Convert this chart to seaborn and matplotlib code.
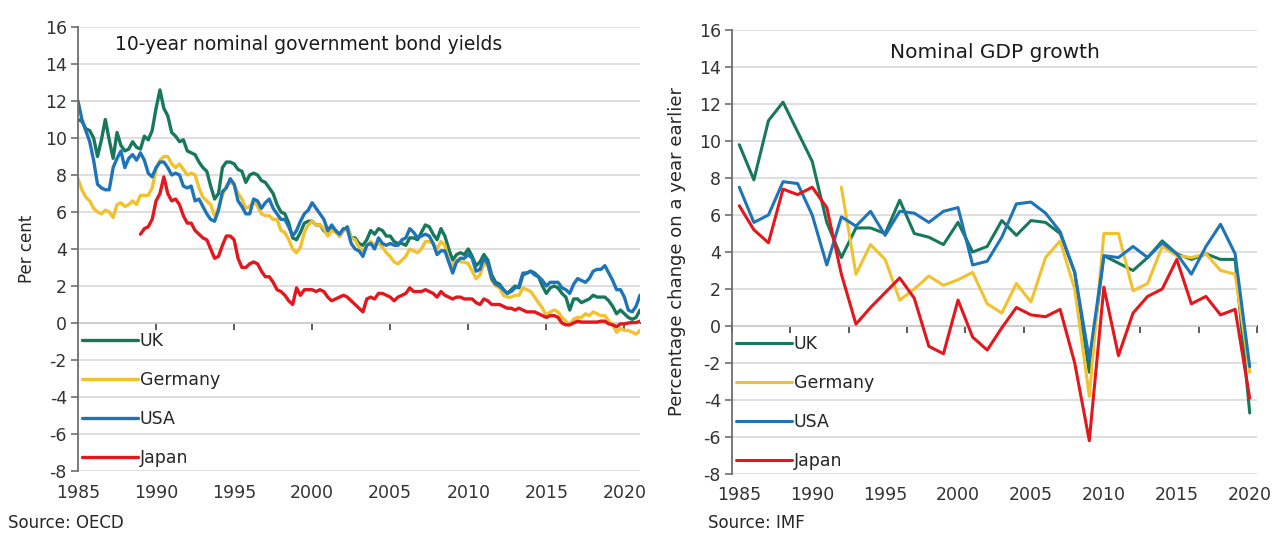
import numpy as np
import pandas as pd
import matplotlib
matplotlib.use("Agg")
import matplotlib.pyplot as plt
import seaborn as sns

countries = ["UK", "Germany", "USA", "Japan"]
colours = {"UK": "#17785b", "Germany": "#f2c12e", "USA": "#1d74b8", "Japan": "#e3171c"}

# 10-year nominal government bond yields, per cent, quarterly (OECD)
uk_yield = [11.0, 10.9, 10.5, 10.4,  10.0, 9.0, 9.9, 11.0,  9.9, 8.9, 10.3, 9.6,
            9.3, 9.4, 9.8, 9.5,  9.4, 10.1, 9.9, 10.4,  11.6, 12.6, 11.6, 11.2,
            10.3, 10.1, 9.8, 9.9,  9.3, 9.2, 9.1, 8.7,  8.4, 8.2, 7.4, 6.7,
            7.0, 8.4, 8.7, 8.7,  8.6, 8.3, 8.2, 7.6,  8.0, 8.1, 8.0, 7.7,
            7.6, 7.3, 7.0, 6.4,  6.0, 5.9, 5.4, 4.6,  4.5, 4.9, 5.4, 5.5,
            5.5, 5.3, 5.3, 5.0,  4.8, 5.1, 5.0, 4.7,  5.0, 5.2, 4.6, 4.6,
            4.3, 4.2, 4.5, 5.0,  4.8, 5.1, 5.0, 4.7,  4.7, 4.4, 4.3, 4.3,
            4.2, 4.6, 4.6, 4.5,  4.9, 5.3, 5.2, 4.8,  4.5, 5.1, 4.7, 4.0,
            3.4, 3.7, 3.8, 3.7,  4.0, 3.6, 3.1, 3.3,  3.7, 3.4, 2.6, 2.2,
            2.1, 1.8, 1.6, 1.8,  2.0, 1.9, 2.6, 2.7,  2.8, 2.7, 2.5, 2.0,
            1.6, 1.9, 2.0, 1.9,  1.6, 1.4, 0.7, 1.3,  1.3, 1.1, 1.2, 1.3,
            1.5, 1.4, 1.4, 1.4,  1.2, 0.9, 0.5, 0.7,  0.5, 0.3, 0.2, 0.3,
            0.7]
de_yield = [7.8, 7.2, 6.8, 6.6,  6.2, 6.0, 5.9, 6.1,  6.0, 5.7, 6.4, 6.5,
            6.3, 6.4, 6.6, 6.4,  6.9, 6.9, 6.9, 7.3,  8.3, 8.8, 9.0, 9.0,
            8.6, 8.4, 8.6, 8.3,  8.0, 8.1, 8.0, 7.3,  6.8, 6.6, 6.4, 5.8,
            6.2, 6.9, 7.4, 7.6,  7.5, 7.0, 6.7, 6.2,  6.3, 6.6, 6.3, 5.9,
            5.8, 5.8, 5.6, 5.6,  5.0, 4.9, 4.5, 4.0,  3.8, 4.1, 4.9, 5.3,
            5.5, 5.3, 5.3, 5.1,  4.7, 5.0, 4.9, 4.7,  5.0, 5.1, 4.6, 4.5,
            4.1, 3.9, 4.2, 4.4,  4.2, 4.3, 4.1, 3.8,  3.6, 3.3, 3.2, 3.4,
            3.6, 4.0, 3.9, 3.8,  4.0, 4.4, 4.4, 4.3,  4.0, 4.4, 4.2, 3.3,
            3.1, 3.4, 3.3, 3.3,  3.2, 2.8, 2.4, 2.6,  3.2, 3.1, 2.3, 2.0,
            1.9, 1.5, 1.4, 1.4,  1.5, 1.5, 1.9, 1.8,  1.7, 1.4, 1.1, 0.8,
            0.4, 0.6, 0.7, 0.6,  0.3, 0.1, -0.1, 0.2,  0.3, 0.3, 0.5, 0.4,
            0.6, 0.5, 0.4, 0.4,  0.1, -0.1, -0.5, -0.3,  -0.4, -0.4, -0.5, -0.6,
            -0.4]
us_yield = [12.0, 11.0, 10.4, 9.8,  8.8, 7.5, 7.3, 7.2,  7.2, 8.4, 8.9, 9.3,
            8.4, 8.9, 9.1, 8.8,  9.2, 8.8, 8.1, 7.9,  8.4, 8.7, 8.7, 8.4,
            8.0, 8.1, 8.0, 7.4,  7.3, 7.4, 6.6, 6.7,  6.3, 5.9, 5.6, 5.5,
            6.1, 7.1, 7.3, 7.8,  7.5, 6.6, 6.3, 5.9,  5.9, 6.7, 6.6, 6.2,
            6.5, 6.7, 6.2, 5.9,  5.6, 5.6, 5.2, 4.7,  5.0, 5.5, 5.9, 6.1,
            6.5, 6.2, 5.9, 5.6,  5.0, 5.3, 5.0, 4.8,  5.1, 5.1, 4.3, 4.0,
            3.9, 3.6, 4.2, 4.3,  4.0, 4.6, 4.3, 4.2,  4.3, 4.2, 4.2, 4.5,
            4.6, 5.1, 4.9, 4.6,  4.7, 4.8, 4.7, 4.3,  3.7, 3.9, 3.9, 3.3,
            2.7, 3.3, 3.5, 3.5,  3.7, 3.5, 2.8, 2.9,  3.5, 3.2, 2.4, 2.1,
            2.0, 1.8, 1.6, 1.7,  1.9, 2.0, 2.7, 2.7,  2.8, 2.6, 2.5, 2.3,
            2.0, 2.2, 2.2, 2.2,  1.9, 1.8, 1.6, 2.1,  2.4, 2.3, 2.2, 2.4,
            2.8, 2.9, 2.9, 3.1,  2.7, 2.3, 1.8, 1.8,  1.4, 0.7, 0.6, 0.9,
            1.5]
jp_yield = [4.8, 5.1, 5.2, 5.6,  6.6, 7.0, 7.9, 7.0,  6.6, 6.7, 6.4, 5.8,
            5.4, 5.4, 5.0, 4.8,  4.6, 4.5, 4.0, 3.5,  3.6, 4.2, 4.7, 4.7,
            4.5, 3.5, 3.0, 3.0,  3.2, 3.3, 3.2, 2.8,  2.5, 2.5, 2.2, 1.8,
            1.7, 1.5, 1.2, 1.0,  1.9, 1.5, 1.8, 1.8,  1.8, 1.7, 1.8, 1.7,
            1.4, 1.2, 1.3, 1.4,  1.5, 1.4, 1.2, 1.0,  0.8, 0.6, 1.3, 1.4,
            1.3, 1.6, 1.6, 1.5,  1.4, 1.2, 1.4, 1.5,  1.6, 1.9, 1.7, 1.7,
            1.7, 1.8, 1.7, 1.6,  1.4, 1.7, 1.5, 1.4,  1.3, 1.4, 1.4, 1.3,
            1.3, 1.3, 1.1, 1.0,  1.3, 1.2, 1.0, 1.0,  1.0, 0.9, 0.8, 0.8,
            0.7, 0.8, 0.7, 0.6,  0.6, 0.6, 0.5, 0.4,  0.3, 0.4, 0.4, 0.3,
            0.0, -0.1, -0.1, 0.0,  0.1, 0.05, 0.05, 0.05,  0.05, 0.05, 0.1, 0.1,
            -0.05, -0.1, -0.2, -0.05,  -0.05, 0.0, 0.03, 0.02,
            0.1]
yield_start = {"UK": "1985Q1", "Germany": "1985Q1", "USA": "1985Q1", "Japan": "1989Q1"}

# nominal GDP growth, percentage change on a year earlier, annual (IMF)
gdp_years = list(range(1985, 2021))
de_gdp_years = list(range(1992, 2021))
uk_gdp = [9.8, 7.9, 11.1, 12.1, 10.5, 8.9, 5.6, 3.7, 5.3, 5.3, 5.0, 6.8,
          5.0, 4.8, 4.4, 5.6, 4.0, 4.3, 5.7, 4.9, 5.7, 5.6, 5.0, 2.9,
          -2.5, 3.8, 3.4, 3.0, 3.7, 4.6, 3.9, 3.6, 3.9, 3.6, 3.6, -4.7]
de_gdp = [7.5, 2.8, 4.4, 3.6, 1.4, 2.0, 2.7, 2.2, 2.5, 2.9, 1.2, 0.7,
          2.3, 1.3, 3.7, 4.6, 2.0, -3.8, 5.0, 5.0, 1.9, 2.3, 4.3, 3.8,
          3.7, 3.9, 3.0, 2.8, -2.5]
us_gdp = [7.5, 5.6, 6.0, 7.8, 7.7, 6.0, 3.3, 5.9, 5.4, 6.2, 4.9, 6.2,
          6.1, 5.6, 6.2, 6.4, 3.3, 3.5, 4.8, 6.6, 6.7, 6.1, 5.1, 2.9,
          -1.8, 3.8, 3.7, 4.3, 3.7, 4.5, 3.9, 2.8, 4.3, 5.5, 3.9, -2.2]
jp_gdp = [6.5, 5.2, 4.5, 7.4, 7.1, 7.5, 6.4, 2.8, 0.1, 1.0, 1.8, 2.6,
          1.5, -1.1, -1.5, 1.4, -0.6, -1.3, -0.1, 1.0, 0.6, 0.5, 0.9, -2.0,
          -6.2, 2.1, -1.6, 0.7, 1.6, 2.0, 3.6, 1.2, 1.6, 0.6, 0.9, -3.9]

# long frames for seaborn
frames = []
for name, vals in zip(countries, [uk_yield, de_yield, us_yield, jp_yield]):
    q = pd.period_range(yield_start[name], periods=len(vals), freq="Q")
    frames.append(pd.DataFrame({"year": q.year + (q.quarter - 1) / 4,
                                "value": vals, "country": name}))
yields = pd.concat(frames, ignore_index=True)

frames = []
for name, yrs, vals in zip(countries, [gdp_years, de_gdp_years, gdp_years, gdp_years],
                           [uk_gdp, de_gdp, us_gdp, jp_gdp]):
    frames.append(pd.DataFrame({"year": yrs, "value": vals, "country": name}))
gdp = pd.concat(frames, ignore_index=True)

sns.set_theme(style="white")
plt.rcParams["font.family"] = ["DejaVu Sans"]
plt.rcParams["text.color"] = "#262626"
plt.rcParams["axes.unicode_minus"] = False

W, H = 1277, 533
fig = plt.figure(figsize=(W / 100, H / 100), dpi=100)
ax1 = fig.add_axes([78 / W, 62 / H, 562 / W, 444 / H])
ax2 = fig.add_axes([732 / W, 59 / H, 525 / W, 444 / H])

sns.lineplot(data=yields, x="year", y="value", hue="country", hue_order=countries,
             palette=colours, lw=2.4, estimator=None, ax=ax1)
sns.lineplot(data=gdp, x="year", y="value", hue="country", hue_order=countries,
             palette=colours, lw=2.2, estimator=None, ax=ax2)


def style(ax, xlim, zero_ticks):
    ax.set_xlim(*xlim)
    ax.set_ylim(-8, 16)
    ax.set_yticks(range(-8, 17, 2))
    ax.set_xticks(range(1985, 2021, 5))
    ax.yaxis.grid(True, color="#dcdcdc", lw=1.3)
    ax.set_axisbelow(True)
    for s in ["top", "right", "bottom"]:
        ax.spines[s].set_visible(False)
    ax.spines["left"].set_color("#6e6e6e")
    ax.spines["left"].set_linewidth(1.3)
    ax.tick_params(axis="y", direction="out", length=5, width=1.2, color="#6e6e6e",
                   labelsize=12.5, labelcolor="#333333", pad=3, left=True)
    ax.tick_params(axis="x", length=0, labelsize=12.5, labelcolor="#333333", pad=9)
    ax.set_xlabel("")
    # axis line at zero with its own tick marks
    sec = ax.secondary_xaxis(1 / 3)
    sec.set_xticks(zero_ticks)
    sec.tick_params(direction="out", length=5, width=1.2, color="#404040",
                    labelbottom=False)
    sec.spines["bottom"].set_color("#404040")
    sec.spines["bottom"].set_linewidth(1.3)
    ax.legend(loc="lower left", bbox_to_anchor=(0.0, 0.0), frameon=False, fontsize=12.5,
              handlelength=3.2, handletextpad=0.1, labelspacing=1.2,
              borderaxespad=0.0, borderpad=0.25)


style(ax1, (1985, 2021), list(range(1990, 2021, 5)))
style(ax2, (1984.5, 2020.5), list(np.arange(1984.5, 2021, 4)))

ax1.set_ylabel("Per cent", fontsize=12, labelpad=6)
ax2.set_ylabel("Percentage change on a year earlier", fontsize=13, labelpad=9)

ax1.text(0.41, 0.96, "10-year nominal government bond yields", transform=ax1.transAxes,
         ha="center", va="center", fontsize=13.5, color="#1a1a1a")
ax2.text(0.5, 0.95, "Nominal GDP growth", transform=ax2.transAxes,
         ha="center", va="center", fontsize=14.5, color="#1a1a1a")

fig.text(8 / W, 1 / H, "Source: OECD", fontsize=12, va="bottom")
fig.text(708 / W, 1 / H, "Source: IMF", fontsize=12, va="bottom")

fig.savefig("out.png", dpi=100)
